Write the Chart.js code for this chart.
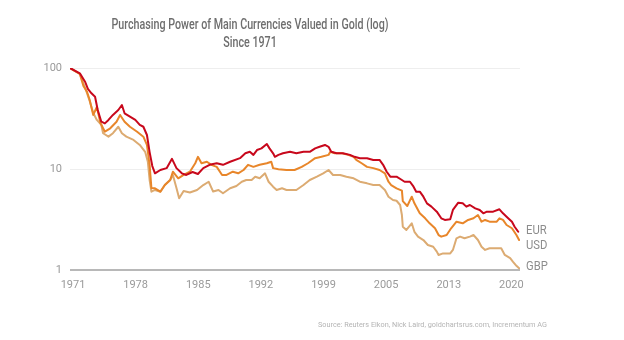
<!DOCTYPE html>
<html>
<head>
<meta charset="utf-8">
<script src="https://cdn.jsdelivr.net/npm/chart.js@4"></script>
<style>
  html, body { margin: 0; padding: 0; background: #fff; }
  canvas { display: block; }
</style>
</head>
<body>
<canvas id="chart" width="624" height="340"></canvas>
<script>
// Purchasing power of each currency measured in gold, 1971 = 100 (log scale)
const eurYears = [1971.0, 1972.1, 1972.7, 1973.0, 1973.4, 1973.8, 1974.1, 1974.5, 1974.9, 1975.3,
  1975.8, 1976.4, 1976.8, 1977.1, 1977.7, 1978.3, 1978.8, 1979.2, 1979.6, 1979.9,
  1980.2, 1980.5, 1981.1, 1981.8, 1982.4, 1982.9, 1983.5, 1984.0, 1984.7, 1985.3,
  1985.9, 1986.6, 1987.4, 1988.1, 1988.9, 1990.0, 1990.6, 1991.1, 1991.5, 1991.9,
  1992.4, 1993.0, 1993.3, 1993.7, 1993.9, 1994.3, 1994.8, 1995.6, 1996.3, 1997.1,
  1997.8, 1998.4, 1998.9, 1999.5, 1999.9, 2000.2, 2000.8, 2001.5, 2002.3, 2002.8,
  2003.4, 2004.2, 2004.9, 2005.6, 2006.0, 2006.4, 2006.8, 2007.5, 2008.1, 2008.4,
  2009.0, 2009.4, 2009.7, 2010.1, 2010.5, 2010.9, 2011.4, 2012.0, 2012.5, 2012.9,
  2013.5, 2013.8, 2014.4, 2014.9, 2015.3, 2015.7, 2016.3, 2016.8, 2017.2, 2017.6,
  2018.3, 2019.0, 2019.4, 2019.8, 2020.4, 2020.7, 2021.1];
const eurValues = [100, 88.7, 72.7, 62.0, 56.2, 52.0, 38.4, 29.4, 28.3, 30.6,
  34.3, 38.4, 43.0, 35.6, 33.0, 30.6, 27.3, 26.2, 21.7, 14.7,
  10.7, 9.06, 9.78, 10.2, 12.6, 10.2, 9.06, 8.73, 9.34, 8.92,
  10.2, 11.0, 11.4, 11.0, 11.8, 12.8, 14.3, 14.8, 13.8, 15.4,
  16.0, 17.7, 16.0, 14.3, 13.2, 13.8, 14.3, 14.8, 14.3, 14.8,
  14.8, 16.0, 16.6, 17.3, 16.6, 14.8, 14.3, 14.3, 13.8, 13.2,
  12.8, 12.8, 12.3, 12.3, 11.0, 9.4, 8.39, 8.39, 7.78, 7.48,
  7.48, 6.68, 5.96, 5.96, 5.32, 4.57, 4.24, 3.78, 3.25, 3.13,
  3.18, 3.93, 4.64, 4.57, 4.24, 4.40, 4.08, 3.93, 3.64, 3.78,
  3.78, 3.99, 3.64, 3.37, 3.01, 2.68, 2.39];

const usdYears = [1971.0, 1972.1, 1972.5, 1972.9, 1973.2, 1973.6, 1974.0, 1974.4, 1974.9, 1975.5,
  1976.2, 1976.6, 1977.1, 1977.7, 1978.5, 1979.2, 1979.6, 1979.9, 1980.1, 1980.5,
  1981.1, 1981.6, 1982.2, 1982.5, 1983.1, 1983.7, 1984.4, 1985.0, 1985.3, 1985.7,
  1986.3, 1986.8, 1987.4, 1988.0, 1988.5, 1989.2, 1989.8, 1990.4, 1990.9, 1991.5,
  1992.2, 1993.0, 1993.5, 1993.7, 1994.3, 1995.2, 1996.1, 1996.9, 1997.6, 1998.4,
  1999.1, 1999.9, 2000.1, 2000.6, 2001.4, 2002.1, 2002.7, 2003.0, 2003.6, 2004.2,
  2004.9, 2005.6, 2006.2, 2006.6, 2006.9, 2007.5, 2008.1, 2008.2, 2008.7, 2009.2,
  2009.5, 2009.9, 2010.1, 2010.7, 2011.2, 2011.8, 2012.2, 2012.5, 2013.1, 2013.6,
  2014.2, 2014.9, 2015.5, 2016.1, 2016.6, 2017.0, 2017.4, 2017.9, 2018.7, 2019.0,
  2019.4, 2019.8, 2020.4, 2020.9, 2021.2];
const usdValues = [100, 87.2, 66.3, 58.2, 48.2, 34.3, 41.1, 28.5, 23.4, 25.3,
  29.4, 34.3, 29.4, 26.2, 23.4, 20.9, 17.3, 11.0, 6.48, 6.44,
  5.96, 6.94, 7.78, 9.40, 8.09, 8.73, 9.40, 11.4, 13.2, 11.4,
  11.8, 11.0, 10.5, 8.73, 8.73, 9.40, 9.06, 9.78, 11.0, 10.5,
  11.0, 11.4, 11.8, 10.2, 9.94, 9.78, 9.78, 10.5, 11.4, 12.8,
  13.2, 13.8, 14.8, 14.3, 14.3, 13.8, 13.2, 12.3, 11.4, 10.5,
  10.2, 9.78, 9.06, 7.48, 6.94, 6.44, 6.1, 4.8, 4.30, 5.32,
  4.57, 3.93, 3.64, 3.25, 2.90, 2.59, 2.22, 2.14, 2.22, 2.59,
  3.01, 2.90, 3.13, 3.25, 3.50, 3.01, 3.13, 3.01, 3.01, 3.25,
  3.13, 2.79, 2.59, 2.22, 1.98];

const gbpYears = [1971.0, 1972.1, 1972.7, 1973.2, 1973.6, 1974.0, 1974.5, 1974.7, 1975.3, 1975.8,
  1976.4, 1976.8, 1977.3, 1978.1, 1978.8, 1979.4, 1979.7, 1979.9, 1980.1, 1980.5,
  1981.1, 1981.6, 1982.2, 1982.5, 1982.9, 1983.2, 1983.7, 1984.4, 1985.2, 1985.9,
  1986.5, 1987.0, 1987.6, 1988.1, 1988.9, 1989.6, 1990.2, 1990.7, 1991.3, 1991.7,
  1992.2, 1992.8, 1993.2, 1993.7, 1994.1, 1994.7, 1995.2, 1996.3, 1997.1, 1997.8,
  1998.6, 1999.3, 1999.9, 2000.4, 2001.2, 2001.9, 2002.7, 2003.4, 2004.2, 2004.9,
  2005.6, 2006.2, 2006.6, 2007.1, 2007.5, 2007.9, 2008.1, 2008.2, 2008.6, 2009.2,
  2009.5, 2009.9, 2010.5, 2011.0, 2011.6, 2012.0, 2012.2, 2012.7, 2013.5, 2013.8,
  2014.2, 2014.6, 2015.1, 2015.7, 2016.1, 2016.6, 2017.0, 2017.4, 2017.9, 2018.7,
  2019.2, 2019.6, 2020.2, 2020.5, 2020.9, 2021.2];
const gbpValues = [100, 87.2, 63.4, 47.1, 35.8, 30.6, 27.3, 22.6, 20.9, 22.6,
  26.2, 22.6, 20.9, 19.4, 17.3, 14.8, 11.8, 7.78, 5.96, 6.20,
  5.96, 6.94, 7.78, 8.73, 6.48, 5.13, 6.06, 5.85, 6.20, 6.94,
  7.48, 5.98, 6.20, 5.75, 6.44, 6.79, 7.48, 7.78, 7.78, 8.39,
  8.09, 9.06, 7.48, 6.68, 6.20, 6.44, 6.20, 6.20, 6.94, 7.78,
  8.39, 9.06, 9.78, 8.73, 8.73, 8.39, 8.09, 7.48, 7.21, 6.94,
  6.94, 6.20, 5.32, 4.93, 4.85, 4.40, 3.50, 2.68, 2.49, 2.90,
  2.39, 2.14, 1.98, 1.77, 1.70, 1.52, 1.41, 1.46, 1.46, 1.58,
  2.06, 2.14, 2.06, 2.14, 2.22, 1.98, 1.70, 1.58, 1.64, 1.64,
  1.64, 1.41, 1.31, 1.21, 1.10, 1.04];

const seriesNames = ['EUR', 'USD', 'GBP'];
const seriesColors = ['#c8081c', '#e8862a', '#dcab72'];

// x-axis labels sit at even seven-year steps along the axis
const tickAt = [1971, 1978, 1985, 1992, 1999, 2006, 2013, 2020];
const tickLabels = ['1971', '1978', '1985', '1992', '1999', '2005', '2013', '2020'];
const yTicks = [1, 10, 100];

const titleLines = ['Purchasing Power of Main Currencies Valued in Gold (log)', 'Since 1971'];
const sourceNote = 'Source: Reuters Eikon, Nick Laird, goldchartsrus.com, Incrementum AG';

const toPoints = (xs, ys) => xs.map((x, i) => ({ x: x, y: ys[i] }));
const seriesData = [
  toPoints(eurYears, eurValues),
  toPoints(usdYears, usdValues),
  toPoints(gbpYears, gbpValues)
];

// Draw text squeezed horizontally so it reads like a condensed face
function drawSqueezed(ctx, text, x, y, scaleX, align) {
  ctx.save();
  ctx.translate(x, y);
  ctx.scale(scaleX, 1);
  ctx.textAlign = align;
  ctx.textBaseline = 'middle';
  ctx.fillText(text, 0, 0);
  ctx.restore();
}

const annotations = {
  id: 'annotations',
  afterDraw(chart) {
    const ctx = chart.ctx;
    const area = chart.chartArea;
    const yScale = chart.scales.y;

    // title, two lines
    ctx.fillStyle = '#6e6e6e';
    ctx.font = '500 15px Roboto';
    const sx = 277 / ctx.measureText(titleLines[0]).width;
    drawSqueezed(ctx, titleLines[0], 250, 25, sx, 'center');
    drawSqueezed(ctx, titleLines[1], 250, 43, sx, 'center');

    // source note, bottom right
    ctx.fillStyle = '#b4b4b4';
    ctx.font = '8px Roboto';
    const ss = 229 / ctx.measureText(sourceNote).width;
    drawSqueezed(ctx, sourceNote, 547, 325, ss, 'right');

    // series names next to the last point of each line
    ctx.fillStyle = '#8c8c8c';
    ctx.font = '12.5px Roboto';
    let prevY = -Infinity;
    seriesData.forEach((pts, i) => {
      const last = pts[pts.length - 1];
      let y = yScale.getPixelForValue(last.y) - 1;
      if (y < prevY + 15) y = prevY + 15;
      prevY = y;
      drawSqueezed(ctx, seriesNames[i], area.right + 6, y, 0.9, 'left');
    });
  }
};

new Chart(document.getElementById('chart'), {
  type: 'line',
  data: {
    datasets: seriesData.map((pts, i) => ({
      label: seriesNames[i],
      data: pts,
      borderColor: seriesColors[i],
      backgroundColor: seriesColors[i],
      borderWidth: 2,
      pointRadius: 0,
      tension: 0,
      fill: false
    }))
  },
  options: {
    responsive: false,
    animation: false,
    devicePixelRatio: 1,
    layout: { padding: { left: 0, right: 104, top: 68, bottom: 0 } },
    plugins: { legend: { display: false }, tooltip: { enabled: false }, title: { display: false } },
    elements: { line: { borderJoinStyle: 'round', borderCapStyle: 'round' } },
    scales: {
      x: {
        type: 'linear',
        min: 1971,
        max: 2021.3,
        afterBuildTicks: s => { s.ticks = tickAt.map(v => ({ value: v })); },
        afterFit: s => { s.height = 70; },
        grid: { display: false, drawTicks: false },
        border: { display: false },
        ticks: {
          autoSkip: false,
          maxRotation: 0,
          padding: 9,
          labelOffset: 3,
          color: '#9a9a9a',
          font: { family: 'Roboto', size: 11 },
          callback: (v, i) => tickLabels[i]
        }
      },
      y: {
        type: 'logarithmic',
        min: 1,
        max: 100,
        afterBuildTicks: s => { s.ticks = yTicks.map(v => ({ value: v })); },
        afterFit: s => { s.width = 70; },
        border: { display: false },
        grid: {
          drawTicks: false,
          color: c => (c.tick && c.tick.value === 1) ? '#b8b8b8' : '#eeeeee',
          lineWidth: c => (c.tick && c.tick.value === 1) ? 2 : 1
        },
        ticks: {
          padding: 8,
          color: '#9a9a9a',
          font: { family: 'Roboto', size: 11 },
          callback: v => String(v)
        }
      }
    }
  },
  plugins: [annotations]
});
</script>
</body>
</html>
